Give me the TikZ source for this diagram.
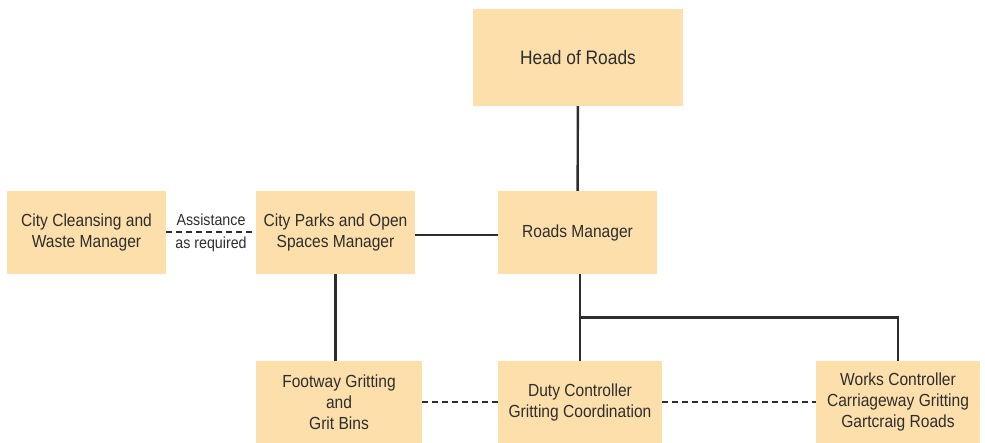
\documentclass[tikz,border=0pt]{standalone}
\usepackage{fontspec}
\setmainfont[FakeStretch=0.89]{Liberation Sans}
\usetikzlibrary{positioning, calc}
\definecolor{boxfill}{RGB}{253,223,172}
\definecolor{inkgray}{RGB}{45,45,45}

\begin{document}
\begin{tikzpicture}[x=1pt, y=-1pt,
    post/.style={rectangle, fill=boxfill, text=inkgray, align=center, inner sep=0pt,
        font=\fontsize{17.5}{21}\selectfont, minimum width=159pt, minimum height=83pt},
    link/.style={draw=inkgray, line width=2.4pt},
    assist/.style={draw=inkgray, line width=2.4pt, dash pattern=on 6pt off 4pt},
    note/.style={text=inkgray, font=\fontsize{16}{19}\selectfont, inner sep=0pt}
    ]
    \useasboundingbox (0,0) rectangle (985,443);

    % top of the chart
    \node[post, minimum width=210pt, minimum height=97pt, font=\fontsize{19.5}{23}\selectfont] (head) at (578,57.5) {Head of Roads};
    \node[post] (roads) at (577.5,232.5) {Roads Manager};
    \node[post] (parks) at (335.5,232.5) {City Parks and Open\\Spaces Manager};
    \node[post] (cleansing) at (86.5,232.5) {City Cleansing and\\Waste Manager};

    % gritting teams
    \node[post, minimum width=166pt, minimum height=82pt] (footway) at (339,402) {Footway Gritting\\and\\Grit Bins};
    \node[post, minimum width=164pt, minimum height=82pt] (duty) at (580,402) {Duty Controller\\Gritting Coordination};
    \node[post, minimum width=164pt, minimum height=82pt] (works) at (898,402) {Works Controller\\Carriageway Gritting\\Gartcraig Roads};

    \coordinate (split) at ($(roads.south -| duty.north)!0.5!(duty.north)$);

    \path[every edge/.style={link}]
    (head) edge (roads)
    (parks.east |- 0,235) edge (roads.west |- 0,235)
    (parks.south) edge (parks.south |- footway.north)
    (roads.south -| duty.north) edge (duty.north)
    ;
    \draw[link] (split) -| (works.north);

    \path[every edge/.style={assist}]
    (cleansing.east |- 0,232) edge node[note, above=5pt] {Assistance} node[note, below=4pt] {as required} (parks.west |- 0,232)
    (footway) edge (duty)
    (duty) edge (works)
    ;
\end{tikzpicture}
\end{document}
